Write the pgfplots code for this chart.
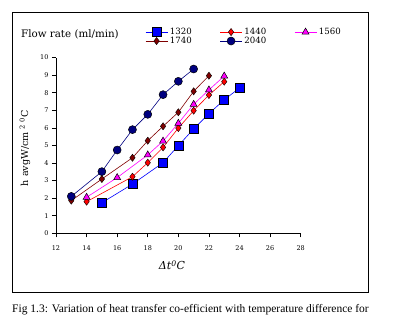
\documentclass[border=0pt]{standalone}
\usepackage{fontspec}
\setmainfont{DejaVu Serif}
\newfontfamily\capfont{Liberation Serif}
\usepackage{pgfplots}
\pgfplotsset{compat=1.18}
\definecolor{cA}{RGB}{0,0,255}
\definecolor{cB}{RGB}{255,0,0}
\definecolor{cC}{RGB}{255,0,255}
\definecolor{cD}{RGB}{128,0,0}
\definecolor{cE}{RGB}{0,0,128}
\begin{document}
\begin{tikzpicture}[x=1pt,y=1pt]
\path[use as bounding box] (0,0) rectangle (407,323);
\draw[line width=0.9pt] (12.3,30.7) rectangle (368.3,310.3);
\node[anchor=base west, inner sep=0pt, font=\fontsize{10.3}{12}\selectfont] at (21,285) {Flow rate (ml/min)};
\begin{axis}[
  at={(56pt,89.7pt)}, anchor=south west,
  scale only axis, width=244.7pt, height=175.7pt,
  xmin=12, xmax=28, ymin=0, ymax=10,
  xtick={12,14,...,28}, ytick={0,1,...,10},
  axis lines=left, axis line style={-, line width=0.7pt},
  tick align=outside, major tick length=4pt,
  tick style={black, line width=0.6pt},
  ticklabel style={font=\fontsize{6.5}{8}\selectfont},
  xticklabel style={yshift=-5pt},
  /pgf/number format/assume math mode=true,
  clip=false,
  legend columns=3,
  legend style={at={(0.364,1.172)}, anchor=north west, draw=none, fill=none,
    inner sep=0pt, font=\fontsize{8.6}{10}\selectfont,
    nodes={inner ysep=0.5pt, inner xsep=2pt},
    row sep=0pt,
    /tikz/every even column/.append style={column sep=26pt}},
  legend cell align=left,
  legend image code/.code={\draw[mark repeat=2,mark phase=2] plot coordinates {(0pt,0pt) (11pt,0pt) (22pt,0pt)};},
  every axis plot/.append style={line width=0.6pt},
]
\addplot[cA, mark=square*, mark size=4.5pt, mark options={fill=cA, draw=black, line width=0.5pt}]
  coordinates {(15,1.74) (17,2.8) (19,4.02) (20,4.99) (21,5.94) (22,6.81) (23,7.6) (24,8.27)};
\addlegendentry{1320}
\addplot[cB, mark=diamond*, mark size=3.6pt, mark options={fill=cB, draw=black, line width=0.4pt}]
  coordinates {(14,1.8) (17,3.22) (18,4.02) (19,4.89) (20,5.99) (21,6.98) (22,7.87) (23,8.63)};
\addlegendentry{1440}
\addplot[cC, mark=triangle*, mark size=4pt, mark options={fill=cC, draw=black, line width=0.5pt}]
  coordinates {(14,2.05) (16,3.17) (18,4.46) (19,5.25) (20,6.26) (21,7.34) (22,8.16) (23,8.95)};
\addlegendentry{1560}
\addplot[cD, mark=diamond*, mark size=3.6pt, mark options={fill=cD, draw=black, line width=0.4pt}]
  coordinates {(13,1.86) (15,3.09) (17,4.3) (18,5.27) (19,6.09) (20,6.89) (21,8.08) (22,8.97)};
\addlegendentry{1740}
\addplot[cE, mark=*, mark size=4pt, mark options={fill=cE, draw=black, line width=0.5pt}]
  coordinates {(13,2.1) (15,3.51) (16,4.74) (17,5.9) (18,6.77) (19,7.89) (20,8.65) (21,9.35)};
\addlegendentry{2040}
\end{axis}
\node[rotate=90, font=\fontsize{9.6}{12}\selectfont] at (25,175) {h avgW/cm\textsuperscript{ 2} \textsuperscript{0}C};
\node[anchor=base, inner sep=0pt, font=\fontsize{11}{12}\selectfont] at (172,53) {\itshape Δt\textsuperscript{0}C};
\node[anchor=base west, inner sep=0pt, font=\capfont\fontsize{11.5}{13}\selectfont] at (12,10) {Fig 1.3: Variation of heat transfer co-efficient with temperature difference for};
\end{tikzpicture}
\end{document}
